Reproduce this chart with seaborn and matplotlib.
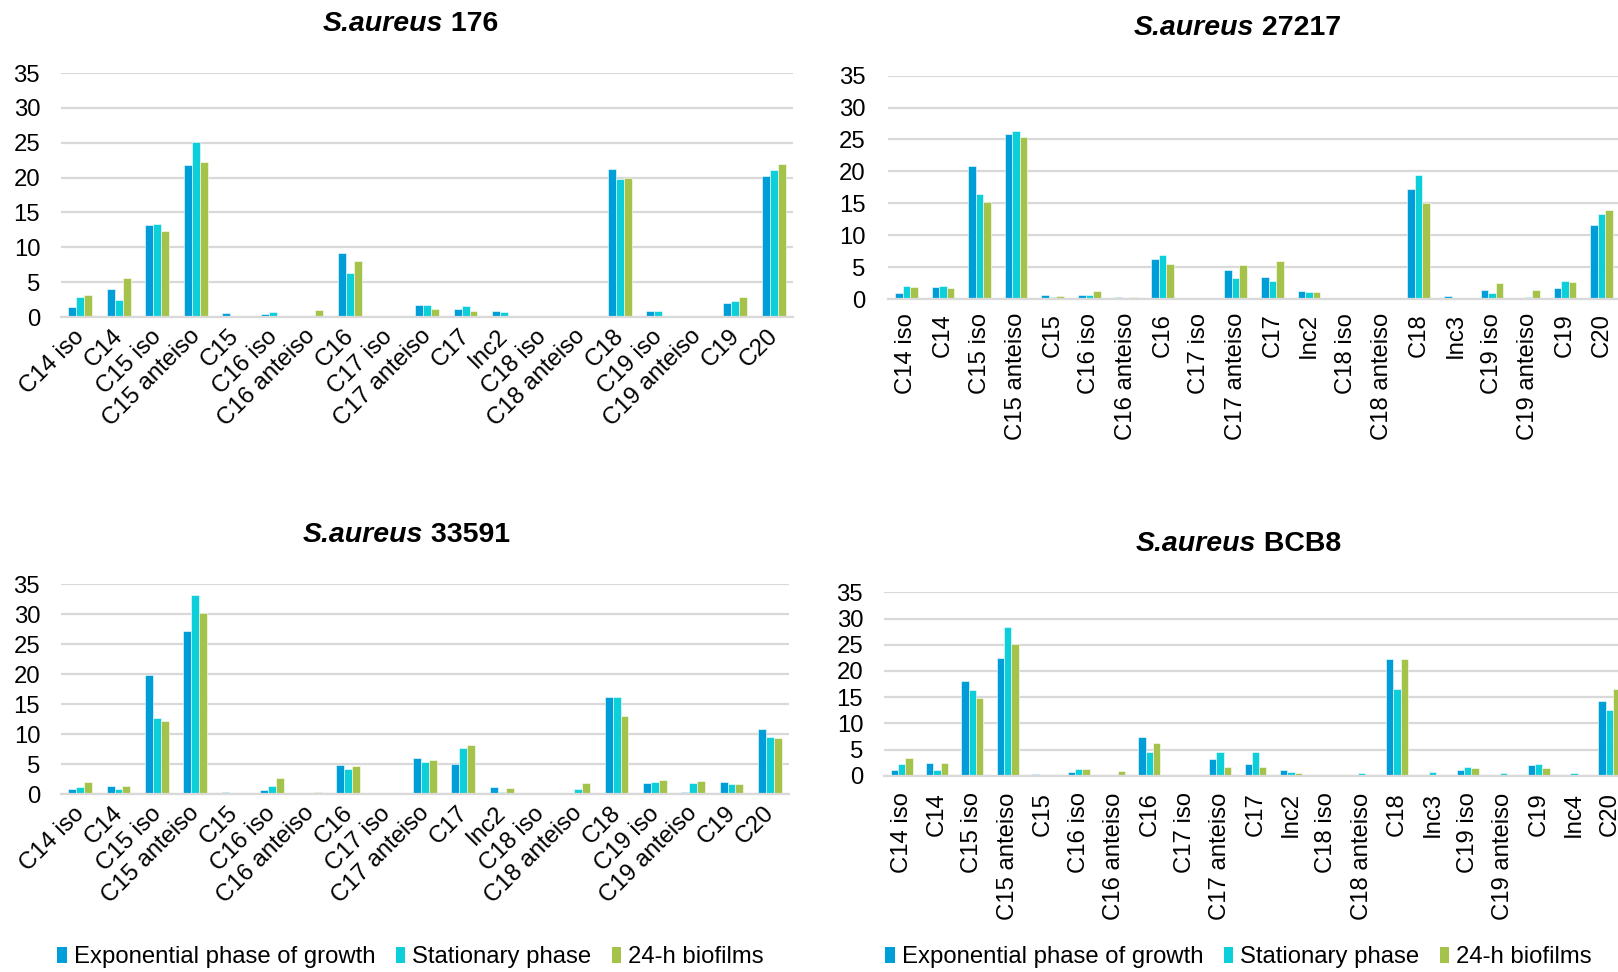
import matplotlib
matplotlib.use("Agg")
import matplotlib.pyplot as plt
import matplotlib.transforms as mtransforms
import pandas as pd
import seaborn as sns
from matplotlib.patches import Patch

# ---- data ---------------------------------------------------------------
phases = ["Exponential phase of growth", "Stationary phase", "24-h biofilms"]
colors = ["#009ED8", "#0DCFDA", "#A5C34B"]

cats_short = ["C14 iso", "C14", "C15 iso", "C15 anteiso", "C15", "C16 iso",
              "C16 anteiso", "C16", "C17 iso", "C17 anteiso", "C17", "Inc2",
              "C18 iso", "C18 anteiso", "C18", "C19 iso", "C19 anteiso",
              "C19", "C20"]
cats_inc3 = ["C14 iso", "C14", "C15 iso", "C15 anteiso", "C15", "C16 iso",
             "C16 anteiso", "C16", "C17 iso", "C17 anteiso", "C17", "Inc2",
             "C18 iso", "C18 anteiso", "C18", "Inc3", "C19 iso",
             "C19 anteiso", "C19", "C20"]
cats_inc4 = ["C14 iso", "C14", "C15 iso", "C15 anteiso", "C15", "C16 iso",
             "C16 anteiso", "C16", "C17 iso", "C17 anteiso", "C17", "Inc2",
             "C18 iso", "C18 anteiso", "C18", "Inc3", "C19 iso",
             "C19 anteiso", "C19", "Inc4", "C20"]

# S.aureus 176
s176_exp = [1.4, 4.0, 13.2, 21.8, 0.6, 0.5, 0.2, 9.2, 0.0, 1.7, 1.2, 0.8,
            0.0, 0.0, 21.3, 0.9, 0.0, 2.0, 20.2]
s176_sta = [2.8, 2.5, 13.3, 25.1, 0.2, 0.7, 0.0, 6.3, 0.0, 1.7, 1.6, 0.7,
            0.0, 0.1, 19.8, 0.8, 0.1, 2.3, 21.1]
s176_bio = [3.2, 5.6, 12.3, 22.2, 0.0, 0.0, 1.0, 8.0, 0.0, 1.2, 0.8, 0.2,
            0.0, 0.0, 20.0, 0.0, 0.0, 2.9, 22.0]

# S.aureus 27217
s27217_exp = [0.9, 1.9, 20.8, 25.9, 0.6, 0.7, 0.3, 6.2, 0.0, 4.5, 3.4, 1.25,
              0.0, 0.0, 17.3, 0.5, 1.4, 0.1, 1.7, 11.6]
s27217_sta = [2.0, 2.0, 16.4, 26.4, 0.3, 0.7, 0.0, 6.9, 0.0, 3.3, 2.8, 1.1,
              0.0, 0.1, 19.4, 0.0, 1.0, 0.35, 2.8, 13.4]
s27217_bio = [1.9, 1.8, 15.2, 25.4, 0.5, 1.25, 0.3, 5.5, 0.0, 5.3, 5.9, 1.1,
              0.0, 0.0, 15.0, 0.0, 2.5, 1.35, 2.6, 13.95]

# S.aureus 33591
s33591_exp = [0.85, 1.4, 19.9, 27.2, 0.3, 0.6, 0.0, 4.8, 0.0, 5.95, 5.0, 1.2,
              0.0, 0.0, 16.2, 1.85, 0.3, 2.0, 10.8]
s33591_sta = [1.2, 0.85, 12.7, 33.2, 0.0, 1.3, 0.0, 4.1, 0.0, 5.35, 7.7, 0.3,
              0.0, 0.85, 16.2, 2.0, 1.85, 1.6, 9.45]
s33591_bio = [2.0, 1.3, 12.2, 30.2, 0.0, 2.6, 0.3, 4.7, 0.0, 5.7, 8.1, 0.95,
              0.0, 1.9, 13.1, 2.4, 2.1, 1.65, 9.35]

# S.aureus BCB8
sbcb8_exp = [1.1, 2.5, 18.0, 22.5, 0.4, 0.65, 0.2, 7.45, 0.0, 3.2, 2.15, 1.0,
             0.0, 0.0, 22.3, 0.0, 1.1, 0.0, 2.05, 0.1, 14.2]
sbcb8_sta = [2.2, 1.1, 16.3, 28.45, 0.0, 1.35, 0.0, 4.5, 0.0, 4.5, 4.5, 0.7,
             0.0, 0.45, 16.5, 0.8, 1.65, 0.6, 2.15, 0.6, 12.5]
sbcb8_bio = [3.4, 2.35, 14.8, 25.1, 0.0, 1.3, 0.9, 6.2, 0.0, 1.6, 1.65, 0.5,
             0.0, 0.0, 22.3, 0.0, 1.4, 0.0, 1.45, 0.0, 16.5]

# ---- style --------------------------------------------------------------
sns.set_theme(style="white")
plt.rcParams["font.family"] = ["Liberation Sans", "DejaVu Sans"]
plt.rcParams["text.color"] = "black"

W, H = 1618, 972
fig = plt.figure(figsize=(W / 100, H / 100), dpi=100)
GRID = "#D9D9D9"
FS = 17.2


def px_rect(x0, y_top, x1, y_bottom):
    return [x0 / W, 1 - y_bottom / H, (x1 - x0) / W, (y_bottom - y_top) / H]


def panel(rect, cats, exp, sta, bio, rotation, xpad, ypad):
    ax = fig.add_axes(rect)
    n = len(cats)
    df = pd.DataFrame({
        "fatty_acid": cats * 3,
        "percent": exp + sta + bio,
        "phase": [phases[0]] * n + [phases[1]] * n + [phases[2]] * n,
    })
    sns.barplot(data=df, x="fatty_acid", y="percent", hue="phase",
                order=cats, hue_order=phases, palette=colors, saturation=1,
                width=0.62, edgecolor="white", linewidth=0.4, errorbar=None,
                legend=False, ax=ax)
    ax.set_ylim(0, 35)
    ax.set_yticks(range(0, 36, 5))
    ax.set_xlim(-0.5, n - 0.5)
    ax.set_xlabel("")
    ax.set_ylabel("")
    ax.set_axisbelow(True)
    ax.yaxis.grid(True, color=GRID, linewidth=1.6)
    for side in ("top", "right", "left"):
        ax.spines[side].set_visible(False)
    ax.spines["bottom"].set_color(GRID)
    ax.spines["bottom"].set_linewidth(1.6)
    ax.tick_params(axis="y", length=0, pad=ypad, labelsize=FS, colors="black")
    ax.tick_params(axis="x", length=0, pad=xpad, labelsize=FS, colors="black")
    if rotation == 45:
        shift = mtransforms.ScaledTranslation(-7 / 100, 0, fig.dpi_scale_trans)
        for lab in ax.get_xticklabels():
            lab.set_rotation(45)
            lab.set_ha("right")
            lab.set_rotation_mode("anchor")
            lab.set_transform(lab.get_transform() + shift)
    else:
        plt.setp(ax.get_xticklabels(), rotation=90, ha="center", va="top")
    return ax


panel(px_rect(61, 73, 793, 317), cats_short, s176_exp, s176_sta, s176_bio,
      45, 6, 15)
panel(px_rect(888, 75.7, 1620, 299), cats_inc3, s27217_exp, s27217_sta,
      s27217_bio, 90, 10, 16)
panel(px_rect(61, 584.3, 789, 794), cats_short, s33591_exp, s33591_sta,
      s33591_bio, 45, 6, 15)
panel(px_rect(884, 592.3, 1627, 775.7), cats_inc4, sbcb8_exp, sbcb8_sta,
      sbcb8_bio, 90, 12, 15)

# ---- titles: italic species name followed by upright strain ------------
renderer = fig.canvas.get_renderer()


def title(xc, yc, strain):
    t1 = fig.text(0, 0, "S.aureus", fontsize=20.5, fontweight="bold",
                  style="italic", va="center", color="black")
    t2 = fig.text(0, 0, "\u00a0" + strain, fontsize=20.5, fontweight="bold",
                  va="center", color="black")
    w1 = t1.get_window_extent(renderer).width
    w2 = t2.get_window_extent(renderer).width
    x0 = xc - (w1 + w2) / 2
    t1.set_position((x0 / W, 1 - yc / H))
    t2.set_position(((x0 + w1) / W, 1 - yc / H))


title(410, 24, "176")
title(1237, 28, "27217")
title(406, 535, "33591")
title(1238, 544, "BCB8")

# ---- legends ------------------------------------------------------------
handles = [Patch(facecolor=c, edgecolor="none") for c in colors]
for x_left in (57, 885):
    fig.legend(handles, phases, loc="center left",
               bbox_to_anchor=(x_left / W, 1 - 957 / H), ncol=3,
               frameon=False, fontsize=FS, handlelength=0.4,
               handleheight=0.65, handletextpad=0.3, columnspacing=0.85,
               borderpad=0, borderaxespad=0, labelcolor="black")

fig.savefig("out.png", dpi=100)
